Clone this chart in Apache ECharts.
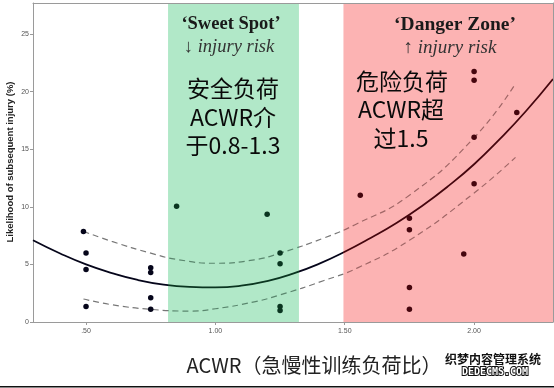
<!DOCTYPE html>
<html><head><meta charset="utf-8">
<script src="https://cdn.jsdelivr.net/npm/echarts@6/dist/echarts.min.js"></script>
<style>html,body{margin:0;padding:0;background:#fff}#c{width:554px;height:388px}</style>
</head><body><div id="c"></div>
<script>
// axis ranges and ticks
const xRange = [0.295, 2.305];
const yRange = [0, 27.7];
const xTickValues = [0.5, 1.0, 1.5, 2.0];
const yTickStep = 5;

// shaded zones (ACWR)
const sweetSpot = [0.817, 1.323];
const dangerZone = [1.495, 2.305];

// observed points [ACWR, likelihood %]
const pointsX = [0.49, 0.50, 0.50, 0.50, 0.75, 0.75, 0.75, 0.75,
                 0.85, 1.20, 1.25, 1.25, 1.25, 1.25,
                 1.56, 1.75, 1.75, 1.75, 1.75, 1.96, 2.00, 2.00, 2.00, 2.00, 2.165];
const pointsY = [7.85, 6.0, 4.55, 1.35, 4.7, 4.3, 2.1, 1.1,
                 10.05, 9.35, 6.0, 5.05, 1.35, 1.0,
                 11.0, 9.0, 8.0, 3.0, 1.1, 5.9, 21.75, 21.0, 16.05, 12.0, 18.2];

// fitted curve
const fitX = [0.295, 0.4, 0.5, 0.6, 0.7, 0.8, 0.9, 1.0, 1.1, 1.2, 1.3, 1.4, 1.5, 1.6, 1.7, 1.8, 1.9, 2.0, 2.1, 2.2, 2.305];
const fitY = [7.1, 5.95, 5.0, 4.25, 3.65, 3.25, 3.05, 3.0, 3.15, 3.55, 4.2, 5.05, 6.1, 7.3, 8.6, 10.1, 11.8, 13.7, 15.9, 18.3, 21.1];

// confidence bands
const upperX = [0.49, 0.6, 0.75, 0.86, 1.0, 1.15, 1.25, 1.42, 1.54, 1.75, 2.0, 2.16];
const upperY = [7.87, 7.0, 5.98, 5.4, 5.1, 5.4, 5.98, 7.3, 8.45, 11.0, 16.0, 20.7];
const lowerX = [0.49, 0.6, 0.75, 0.9, 1.0, 1.15, 1.25, 1.42, 1.55, 1.75, 2.0, 2.16];
const lowerY = [2.0, 1.5, 1.1, 0.95, 1.15, 1.75, 2.35, 3.6, 4.7, 7.1, 11.2, 14.3];

const zip = (a, b) => a.map((v, i) => [v, b[i]]);

const zonePieces = (c0, c1, c2, c3) => [
  {lt: sweetSpot[0], color: c0},
  {gte: sweetSpot[0], lt: sweetSpot[1], color: c1},
  {gte: sweetSpot[1], lt: dangerZone[0], color: c2},
  {gte: dangerZone[0], color: c3}
];

const chart = echarts.init(document.getElementById('c'));
const axisGray = '#9a9a9a';
const bandColors = ['#b1e8c8', '#fcb3b3'];

chart.setOption({
  animation: false,
  grid: {left: 33, right: 1, top: 3, bottom: 66},
  xAxis: [{
    type: 'value', min: xRange[0], max: xRange[1],
    splitLine: {show: false},
    axisLine: {onZero: false, lineStyle: {color: axisGray, width: 1}},
    axisTick: {customValues: xTickValues, length: 3, lineStyle: {color: axisGray}},
    axisLabel: {customValues: xTickValues, fontSize: 7, color: '#555', margin: 6,
      fontFamily: 'Liberation Sans',
      formatter: v => v === 0.5 ? '.50' : v.toFixed(2)}
  }, {
    type: 'value', position: 'top', min: xRange[0], max: xRange[1], z: 10,
    splitLine: {show: false}, axisTick: {show: false}, axisLabel: {show: false},
    axisLine: {show: true, onZero: false, lineStyle: {color: axisGray, width: 1}}
  }],
  yAxis: [{
    type: 'value', min: yRange[0], max: yRange[1], interval: yTickStep,
    splitLine: {show: false},
    axisLine: {show: true, onZero: false, lineStyle: {color: axisGray, width: 1}},
    axisTick: {length: 3, lineStyle: {color: axisGray}},
    axisLabel: {fontSize: 7, color: '#555', margin: 4, fontFamily: 'Liberation Sans',
      formatter: v => (v % yTickStep === 0) ? String(v) : '', showMaxLabel: false}
  }, {
    type: 'value', position: 'right', min: yRange[0], max: yRange[1], z: 10,
    splitLine: {show: false}, axisTick: {show: false}, axisLabel: {show: false},
    axisLine: {show: true, onZero: false, lineStyle: {color: axisGray, width: 1}}
  }],
  visualMap: [{
    show: false, type: 'piecewise', dimension: 0, seriesIndex: [1, 4],
    pieces: zonePieces('#05051a', '#0a3520', '#05051a', '#45060e')
  }, {
    show: false, type: 'piecewise', dimension: 0, seriesIndex: [2, 3],
    pieces: zonePieces('#777777', '#5a876e', '#777777', '#a06666')
  }],
  series: [{
    type: 'custom', z: 1, silent: true, clip: true,
    data: [sweetSpot, dangerZone],
    encode: {x: [0, 1]},
    renderItem: (params, api) => {
      const p0 = api.coord([api.value(0), yRange[1]]);
      const p1 = api.coord([api.value(1), yRange[0]]);
      return {type: 'rect', shape: {x: p0[0], y: p0[1], width: p1[0] - p0[0], height: p1[1] - p0[1]},
        style: {fill: bandColors[params.dataIndex]}};
    }
  }, {
    type: 'line', z: 4, data: zip(fitX, fitY), smooth: true, showSymbol: false,
    lineStyle: {width: 1.8}
  }, {
    type: 'line', z: 3, data: zip(upperX, upperY), smooth: true, showSymbol: false,
    lineStyle: {width: 1.2, type: [6, 4]}
  }, {
    type: 'line', z: 3, data: zip(lowerX, lowerY), smooth: true, showSymbol: false,
    lineStyle: {width: 1.2, type: [6, 4]}
  }, {
    type: 'scatter', z: 5, data: zip(pointsX, pointsY), symbolSize: 5.5,
    itemStyle: {opacity: 1}
  }],
  graphic: [
    {type: 'text', z: 20, style: {text: '‘Sweet Spot’', x: 231, y: 24, align: 'center', verticalAlign: 'middle',
      font: 'bold 18.5px "Liberation Serif"', fill: '#1a1a1a'}},
    {type: 'text', z: 20, style: {text: '↓ injury risk', x: 229, y: 47, align: 'center', verticalAlign: 'middle',
      font: 'italic 18.5px "Liberation Serif"', fill: '#333'}},
    {type: 'text', z: 20, style: {text: '‘Danger Zone’', x: 455, y: 25, align: 'center', verticalAlign: 'middle',
      font: 'bold 19.5px "Liberation Serif"', fill: '#1a1a1a'}},
    {type: 'text', z: 20, style: {text: '↑ injury risk', x: 450, y: 48, align: 'center', verticalAlign: 'middle',
      font: 'italic 19px "Liberation Serif"', fill: '#333'}},
    {type: 'text', z: 20, style: {text: '安全负荷', x: 233, y: 88, align: 'center', verticalAlign: 'middle',
      font: '23px "Noto Sans CJK SC"', fill: '#0a0a0a'}},
    {type: 'text', z: 20, style: {text: 'ACWR介', x: 233, y: 117, align: 'center', verticalAlign: 'middle',
      font: '23px "Noto Sans CJK SC"', fill: '#0a0a0a'}},
    {type: 'text', z: 20, style: {text: '于0.8-1.3', x: 233, y: 145, align: 'center', verticalAlign: 'middle',
      font: '23px "Noto Sans CJK SC"', fill: '#0a0a0a'}},
    {type: 'text', z: 20, style: {text: '危险负荷', x: 402, y: 81, align: 'center', verticalAlign: 'middle',
      font: '23px "Noto Sans CJK SC"', fill: '#0a0a0a'}},
    {type: 'text', z: 20, style: {text: 'ACWR超', x: 401, y: 109, align: 'center', verticalAlign: 'middle',
      font: '23px "Noto Sans CJK SC"', fill: '#0a0a0a'}},
    {type: 'text', z: 20, style: {text: '过1.5', x: 401, y: 138, align: 'center', verticalAlign: 'middle',
      font: '23px "Noto Sans CJK SC"', fill: '#0a0a0a'}},
    {type: 'text', z: 20, rotation: Math.PI / 2, x: 10, y: 162, style: {text: 'Likelihood of subsequent injury (%)',
      x: 0, y: 0, align: 'center', verticalAlign: 'middle', font: 'bold 9.5px "Liberation Sans"', fill: '#222'}},
    {type: 'text', z: 20, style: {text: 'ACWR（急慢性训练负荷比）', x: 314, y: 365, align: 'center', verticalAlign: 'middle',
      font: '20px "Noto Sans CJK SC"', fill: '#222'}},
    {type: 'text', z: 20, style: {text: '织梦内容管理系统', x: 493, y: 359, align: 'center', verticalAlign: 'middle',
      font: 'bold 12px "Noto Sans CJK SC"', fill: '#111', stroke: '#fff', lineWidth: 2}},
    {type: 'text', z: 20, style: {text: 'DEDECMS.COM', x: 495, y: 372.5, align: 'center', verticalAlign: 'middle',
      font: 'bold 10px "DejaVu Sans Mono"', fill: '#fff', stroke: '#111', lineWidth: 2}},
    {type: 'rect', z: 20, shape: {x: 0, y: 386, width: 554, height: 1.4}, style: {fill: '#111'}}
  ]
});
</script>
</body></html>
